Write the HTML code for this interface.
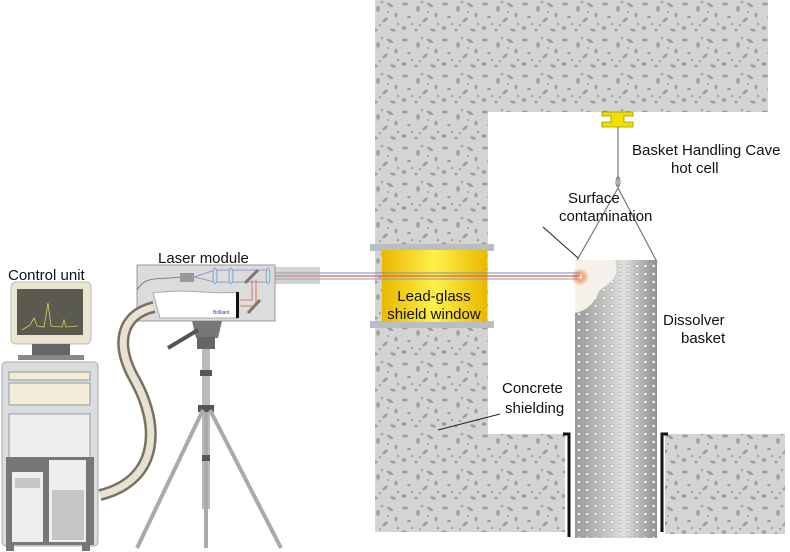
<!DOCTYPE html>
<html><head><meta charset="utf-8"><style>
html,body{margin:0;padding:0;background:#fff;}
svg{display:block}
text{font-family:"Liberation Sans",Arial,sans-serif;fill:#111;}
</style></head><body>
<svg width="790" height="552" viewBox="0 0 790 552" xmlns="http://www.w3.org/2000/svg">
<defs>
<pattern id="conc" width="40" height="36" patternUnits="userSpaceOnUse">
<rect width="40" height="36" fill="#d4d4d4"/>
<g fill="#9e9e9e">
<ellipse cx="5" cy="4" rx="3" ry="1.5"/><ellipse cx="18" cy="9" rx="1.8" ry="3"/>
<ellipse cx="30" cy="5" rx="3.5" ry="1.5" transform="rotate(30 30 5)"/><ellipse cx="9" cy="17" rx="1.8" ry="1.3"/>
<ellipse cx="25" cy="20" rx="3.2" ry="1.5" transform="rotate(-40 25 20)"/><ellipse cx="36" cy="15" rx="1.5" ry="2.4"/>
<ellipse cx="4" cy="28" rx="2.4" ry="1.8"/><ellipse cx="16" cy="30" rx="1.5" ry="1.5"/>
<ellipse cx="33" cy="30" rx="3" ry="1.4" transform="rotate(20 33 30)"/><ellipse cx="12" cy="24" rx="1.1" ry="1.1"/>
<ellipse cx="22" cy="2" rx="1.3" ry="1.3"/><ellipse cx="38" cy="24" rx="1.3" ry="1.3"/>
<ellipse cx="28" cy="12" rx="1" ry="1"/><ellipse cx="20" cy="25" rx="1" ry="1.2"/>
</g></pattern>
<pattern id="holes" width="8.3" height="8" patternUnits="userSpaceOnUse" x="575" y="262">
<circle cx="4" cy="4" r="1.5" fill="#fafafa" stroke="#8a8a8a" stroke-width="0.4"/>
</pattern>
<linearGradient id="bask" x1="0" x2="1"><stop offset="0" stop-color="#9a9a9a"/><stop offset="0.6" stop-color="#dedede"/><stop offset="1" stop-color="#8e8e8e"/></linearGradient>
<linearGradient id="win" x1="0" x2="1"><stop offset="0" stop-color="#e9b800"/><stop offset="0.5" stop-color="#fff04a"/><stop offset="1" stop-color="#e9b800"/></linearGradient>
<radialGradient id="spot"><stop offset="0" stop-color="#fff"/><stop offset="0.4" stop-color="#f6a070"/><stop offset="1" stop-color="#f6a070" stop-opacity="0"/></radialGradient>
</defs>

<path d="M375 0 H768 V112 H488 V434 H565 V532 H375 Z" fill="url(#conc)"/>
<rect x="665" y="434" width="120" height="100" fill="url(#conc)"/>
<rect x="370" y="244" width="124" height="7" fill="#b8bec4"/>
<rect x="370" y="321" width="124" height="7" fill="#b8bec4"/>
<rect x="382" y="250" width="105" height="72" fill="url(#win)"/>
<text x="434" y="301" font-size="15" text-anchor="middle">Lead-glass</text>
<text x="434" y="319" font-size="15" text-anchor="middle">shield window</text>

<path d="M602 112 H633 V116 H624 V122 H633 V127 H602 V122 H611 V116 H602 Z" fill="#f0e000" stroke="#a09000" stroke-width="0.8"/>
<line x1="618" y1="127" x2="618" y2="186" stroke="#777" stroke-width="1.2"/>
<ellipse cx="618" cy="182" rx="2" ry="5" fill="none" stroke="#777"/>
<path d="M576 262 L618 188 L657 262" fill="none" stroke="#777" stroke-width="1.2"/>

<rect x="575" y="260" width="82" height="278" fill="url(#bask)"/>
<rect x="575" y="260" width="82" height="278" fill="url(#holes)"/>
<path d="M575 260 H615 C620 275 612 282 600 290 C595 300 590 310 575 313 Z" fill="#f3f1ea"/>
<circle cx="580" cy="277" r="9" fill="url(#spot)"/>
<path d="M563 434 H569 V537" fill="none" stroke="#111" stroke-width="3"/>
<path d="M668 434 H662 V532" fill="none" stroke="#111" stroke-width="3"/>

<line x1="275" y1="273" x2="580" y2="273" stroke="#7a86c8" stroke-width="1"/>
<line x1="275" y1="276" x2="580" y2="276" stroke="#e06040" stroke-width="1.2"/>
<line x1="275" y1="279" x2="580" y2="279" stroke="#8a96d0" stroke-width="1"/>
<rect x="275" y="267" width="45" height="17" fill="#a8a8a8" opacity="0.5"/>

<text x="632" y="155" font-size="15">Basket Handling Cave</text>
<text x="671" y="173" font-size="15">hot cell</text>
<text x="568" y="203" font-size="15">Surface</text>
<text x="559" y="221" font-size="15">contamination</text>
<line x1="543" y1="227" x2="578" y2="258" stroke="#222"/>
<text x="663" y="325" font-size="15">Dissolver</text>
<text x="681" y="343" font-size="15">basket</text>
<text x="502" y="393" font-size="15">Concrete</text>
<text x="505" y="413" font-size="15">shielding</text>
<line x1="500" y1="414" x2="438" y2="430" stroke="#222"/>
<text x="158" y="263" font-size="15">Laser module</text>
<text x="8" y="280" font-size="15">Control unit</text>

<rect x="137" y="265" width="138" height="56" fill="#dcdcdc" stroke="#999"/>
<rect x="180" y="273" width="14" height="9" fill="#999"/>
<path d="M194 277 L215 270 L270 270 M194 277 L215 282 L270 282" fill="none" stroke="#7a86c8" stroke-width="0.8"/>
<ellipse cx="215" cy="276" rx="2" ry="8" fill="#cde" stroke="#8ab"/>
<ellipse cx="231" cy="276" rx="2" ry="8" fill="#cde" stroke="#8ab"/>
<ellipse cx="268" cy="276" rx="2" ry="8" fill="#cde" stroke="#8ab"/>
<line x1="245" y1="283" x2="258" y2="270" stroke="#777" stroke-width="3"/>
<line x1="248" y1="313" x2="260" y2="300" stroke="#777" stroke-width="3"/>
<path d="M252 280 V300 H240 M256 280 V306 H240" fill="none" stroke="#e06040" stroke-width="0.8"/>
<path d="M153 293 C190 288 210 295 238 292 V318 H160 Z" fill="#fff" stroke="#aaa"/>
<rect x="236" y="292" width="3" height="26" fill="#111"/>
<text x="213" y="314" font-size="5" style="fill:#3040a0">Brilliant</text>
<path d="M137 290 C145 275 160 280 180 277" fill="none" stroke="#666" stroke-width="0.8"/>

<path d="M154 307 C120 315 115 345 135 380 C160 425 160 480 100 495" fill="none" stroke="#7a7060" stroke-width="12"/>
<path d="M154 307 C120 315 115 345 135 380 C160 425 160 480 100 495" fill="none" stroke="#e8e2d4" stroke-width="7"/>

<path d="M192 321 H222 L218 338 H196 Z" fill="#777"/>
<line x1="198" y1="330" x2="168" y2="348" stroke="#555" stroke-width="4"/>
<rect x="197" y="337" width="18" height="12" fill="#666"/>
<rect x="202" y="349" width="8" height="160" fill="#bbb"/>
<rect x="200" y="370" width="12" height="6" fill="#555"/>
<rect x="198" y="405" width="16" height="7" fill="#555"/>
<line x1="203" y1="410" x2="137" y2="548" stroke="#aaa" stroke-width="4"/>
<line x1="210" y1="410" x2="281" y2="548" stroke="#aaa" stroke-width="4"/>
<line x1="206" y1="412" x2="206" y2="548" stroke="#aaa" stroke-width="4"/>
<rect x="202" y="455" width="8" height="6" fill="#555"/>

<rect x="11" y="282" width="80" height="62" rx="5" fill="#ebe6cf" stroke="#bbb"/>
<rect x="17" y="289" width="66" height="46" fill="#5a5a50"/>
<path d="M22 330 L30 325 L34 318 L37 326 L44 327 L48 303 L51 326 L62 327 L64 320 L66 327 L78 326" fill="none" stroke="#d8d060" stroke-width="0.8"/>
<rect x="32" y="344" width="38" height="12" fill="#666"/>
<rect x="18" y="355" width="66" height="5" fill="#888"/>
<rect x="2" y="362" width="96" height="184" rx="4" fill="#d8dde0" stroke="#aaa"/>
<rect x="9" y="372" width="81" height="8" fill="#f2ecd8" stroke="#999"/>
<rect x="9" y="383" width="81" height="22" fill="#f2ecd8" stroke="#999"/>
<rect x="9" y="414" width="81" height="50" fill="#eeeeee" stroke="#999"/>
<rect x="6" y="457" width="88" height="88" fill="#777"/>
<rect x="12" y="472" width="31" height="70" fill="#eee"/>
<rect x="49" y="460" width="37" height="82" fill="#eee"/>
<rect x="52" y="490" width="32" height="50" fill="#aaa" opacity="0.6"/>
<rect x="15" y="478" width="25" height="10" fill="#aaa" opacity="0.6"/>
<rect x="6" y="544" width="8" height="7" fill="#777"/>
<rect x="82" y="544" width="8" height="7" fill="#777"/>
</svg>
</body></html>
